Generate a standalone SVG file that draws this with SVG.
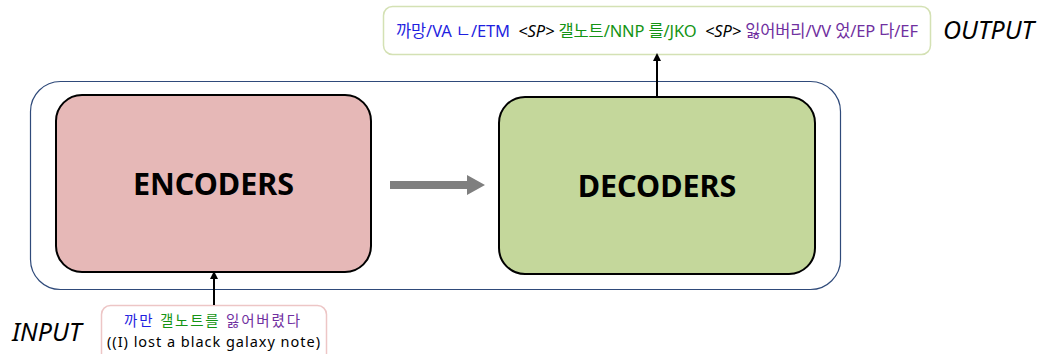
<svg xmlns="http://www.w3.org/2000/svg" width="1052" height="354" viewBox="0 0 1052 354">
  <style>
    text { font-family: "Noto Sans", "Noto Sans CJK KR", sans-serif; }
    .box { stroke: #000; stroke-width: 2; }
    .title { font-size: 30.5px; font-weight: bold; fill: #000; text-anchor: middle; }
    .tag { font-size: 16.5px; }
    .io { font-size: 25px; font-style: italic; fill: #000; }
    .blue { fill: #1F1FE0; }
    .green { fill: #149414; }
    .purple { fill: #7030A0; }
    .sp { fill: #000; font-style: italic; }
    .link { stroke: #000; stroke-width: 2; fill: none; marker-end: url(#head); }
  </style>
  <defs>
    <marker id="head" markerWidth="8" markerHeight="8" refX="6" refY="4" orient="auto" markerUnits="userSpaceOnUse">
      <path d="M0,0 L8,4 L0,8 Z" fill="#000"/>
    </marker>
  </defs>

  <!-- model frame -->
  <g id="frame">
    <rect x="30.5" y="81.5" width="810" height="208" rx="30" fill="#fff" stroke="#2F4A7A" stroke-width="1.2"/>
  </g>

  <g id="encoders">
    <rect class="box" x="56" y="95" width="315" height="177" rx="26" fill="#E6B8B7"/>
    <text class="title" x="213.5" y="195">ENCODERS</text>
  </g>

  <g id="decoders">
    <rect class="box" x="499" y="97" width="316" height="177" rx="26" fill="#C4D79B"/>
    <text class="title" x="657" y="197">DECODERS</text>
  </g>

  <g id="output">
    <rect x="383.5" y="6.5" width="547" height="48" rx="9" fill="#fff" stroke="#D4E1B4" stroke-width="1.5"/>
    <text class="tag" x="396" y="37" textLength="522" lengthAdjust="spacing" xml:space="preserve"><tspan class="blue">까망/VA ㄴ/ETM  </tspan><tspan class="sp">&lt;SP&gt;</tspan><tspan class="green"> 갤노트/NNP 를/JKO  </tspan><tspan class="sp">&lt;SP&gt;</tspan><tspan class="purple"> 잃어버리/VV 었/EP 다/EF</tspan></text>
    <text class="io" x="943" y="39">OUTPUT</text>
  </g>

  <g id="input">
    <rect x="101.5" y="305.5" width="225" height="60" rx="9" fill="#fff" stroke="#EDC6C6" stroke-width="1.5"/>
    <text x="124" y="326" font-size="14.5" textLength="176" lengthAdjust="spacing"><tspan class="blue">까만 </tspan><tspan class="green">갤노트를 </tspan><tspan class="purple">잃어버렸다</tspan></text>
    <text x="107" y="347" font-size="14.5" textLength="213" lengthAdjust="spacing" fill="#000">((I) lost a black galaxy note)</text>
    <text class="io" x="12" y="341">INPUT</text>
  </g>

  <g id="connectors">
    <line class="link" x1="214" y1="305" x2="214" y2="273"/>
    <line class="link" x1="657" y1="97" x2="657" y2="55"/>
    <!-- encoder to decoder hand-off -->
    <path d="M390,181 L467,181 L467,175 L485,185 L467,195 L467,189 L390,189 Z" fill="#7F7F7F"/>
  </g>
</svg>
